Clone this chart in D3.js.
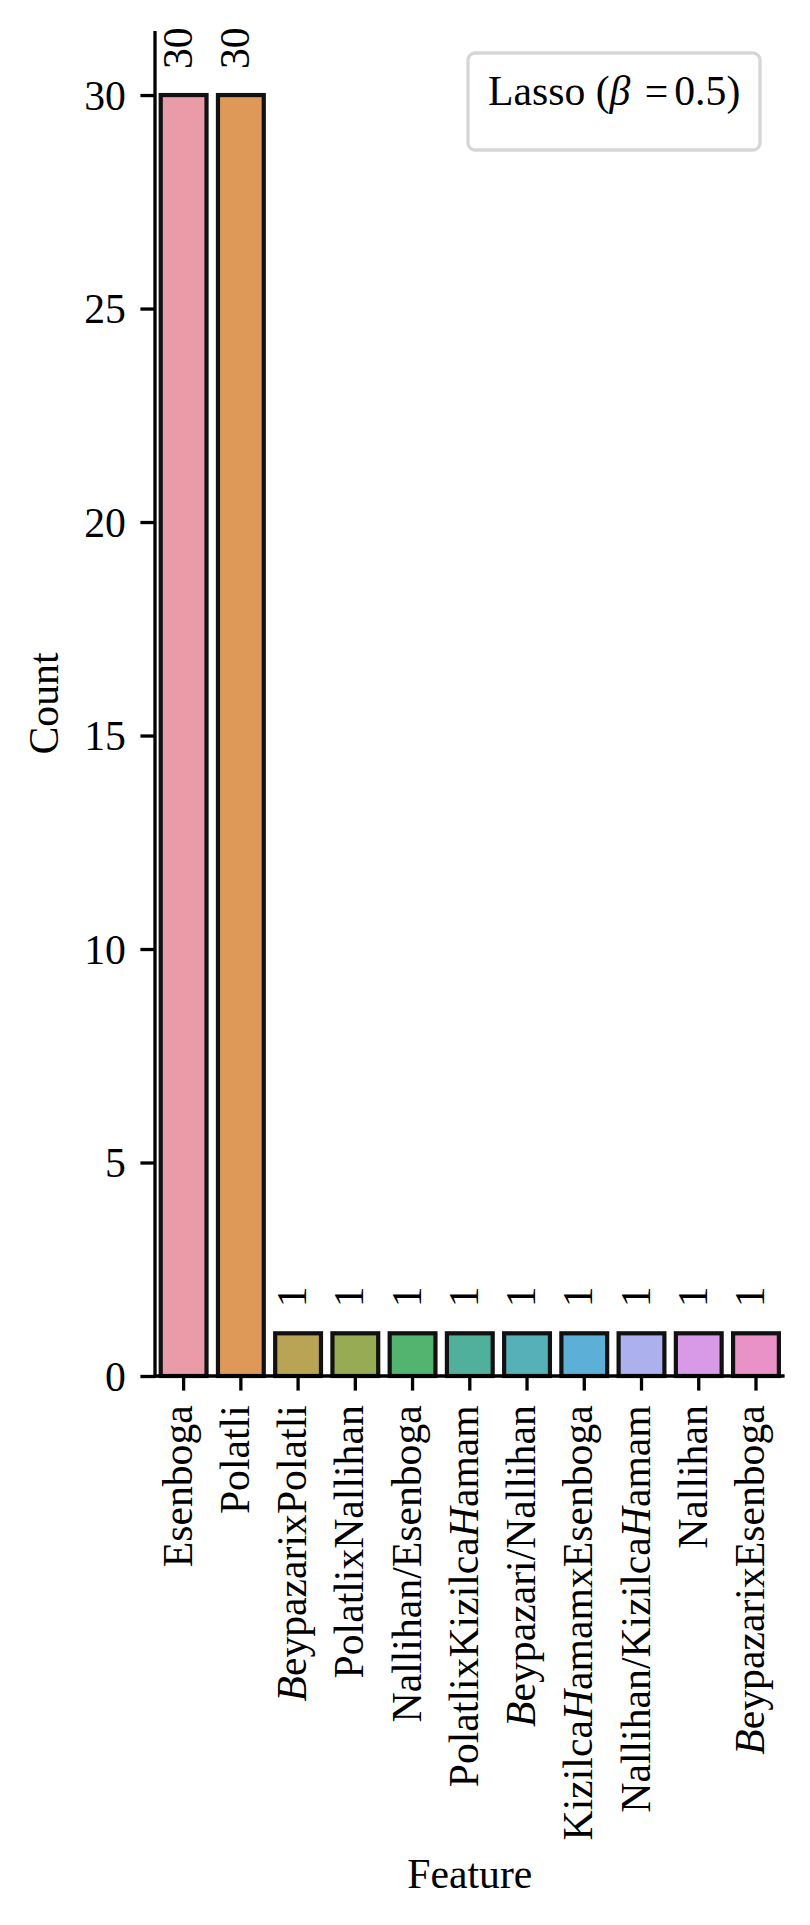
<!DOCTYPE html>
<html>
<head>
<meta charset="utf-8">
<script src="https://cdn.jsdelivr.net/npm/d3@7"></script>
<style>
  html, body { margin: 0; padding: 0; background: #fff; }
  svg { display: block; }
  text { font-family: "Liberation Serif", "Times New Roman", serif; fill: #000; }
</style>
</head>
<body>
<div id="chart"></div>
<script>
// ---- data ----
const categories = [
  "Esenboga", "Polatli", "$B$eypazarixPolatli", "PolatlixNallihan",
  "Nallihan/Esenboga", "PolatlixKizilca$H$amam", "$B$eypazari/Nallihan",
  "Kizilca$H$amamxEsenboga", "Nallihan/Kizilca$H$amam", "Nallihan",
  "$B$eypazarixEsenboga"
];
const counts = [30, 30, 1, 1, 1, 1, 1, 1, 1, 1, 1];
const barColors = [
  "#e99ca8", "#de9858", "#b8a454", "#97aa54", "#52b46e", "#50b09c",
  "#56b0b8", "#5cb0d8", "#acb0ec", "#d89ae6", "#e892c8"
];
const yTicks = [0, 5, 10, 15, 20, 25, 30];
const yMax = 31.5;
const xLabel = "Feature";
const yLabel = "Count";
const legendParts = ["Lasso (", "β", " =", "0.5)"];

// ---- layout ----
const W = 810, H = 1925;
const mLeft = 155, mRight = 784.6, mTop = 31, mBottom = 1376;
const FS = 41.7;
const tickLen = 14.6, tickPad = 14.6, lw = 3.3;

const svg = d3.select("#chart").append("svg").attr("width", W).attr("height", H);

const x = d3.scaleBand().domain(categories).range([mLeft, mRight])
  .paddingInner(0.2).paddingOuter(0.1);
const y = d3.scaleLinear().domain([0, yMax]).range([mBottom, mTop]);

// rich text helper: $X$ => italic
function richText(sel, str) {
  const parts = str.split("$");
  parts.forEach((p, i) => {
    if (!p) return;
    sel.append("tspan").text(p).attr("font-style", i % 2 === 1 ? "italic" : null);
  });
}

// bars
svg.append("g").selectAll("rect").data(categories).join("rect")
  .attr("x", d => x(d))
  .attr("width", x.bandwidth())
  .attr("y", (d, i) => y(counts[i]))
  .attr("height", (d, i) => y(0) - y(counts[i]))
  .attr("fill", (d, i) => barColors[i])
  .attr("stroke", "#111")
  .attr("stroke-width", 4.2);

// value labels
svg.append("g").selectAll("text").data(categories).join("text")
  .attr("transform", (d, i) => `translate(${x(d) + x.bandwidth() / 2 + 8},${y(counts[i]) - 26}) rotate(-90)`)
  .attr("text-anchor", "start")
  .attr("font-size", FS)
  .text((d, i) => counts[i]);

// y axis
const yAxis = svg.append("g").attr("transform", `translate(${mLeft},0)`)
  .call(d3.axisLeft(y).tickValues(yTicks).tickSize(tickLen).tickPadding(tickPad).tickFormat(d3.format("d")));
yAxis.select(".domain").remove();
yAxis.selectAll(".tick line").attr("stroke", "#000").attr("stroke-width", lw);
yAxis.selectAll(".tick text").attr("font-size", FS)
  .attr("font-family", "Liberation Serif, serif").attr("dy", "0.34em");

// x axis
const xAxis = svg.append("g").attr("transform", `translate(0,${mBottom})`)
  .call(d3.axisBottom(x).tickSize(tickLen).tickFormat(""));
xAxis.select(".domain").remove();
xAxis.selectAll(".tick line").attr("stroke", "#000").attr("stroke-width", lw);
xAxis.selectAll(".tick text").remove();
xAxis.selectAll(".tick").each(function(d) {
  const t = d3.select(this).append("text")
    .attr("transform", `translate(8,${tickLen + tickPad}) rotate(-90)`)
    .attr("text-anchor", "end")
    .attr("font-size", FS)
    .attr("font-family", "Liberation Serif, serif")
    .attr("fill", "#000");
  richText(t, d);
});

// spines
svg.append("line").attr("x1", mLeft).attr("x2", mLeft).attr("y1", mTop).attr("y2", mBottom + lw / 2)
  .attr("stroke", "#000").attr("stroke-width", lw);
svg.append("line").attr("x1", mLeft - lw / 2).attr("x2", mRight).attr("y1", mBottom).attr("y2", mBottom)
  .attr("stroke", "#000").attr("stroke-width", lw);

// axis labels
svg.append("text").attr("x", (mLeft + mRight) / 2).attr("y", 1888)
  .attr("text-anchor", "middle").attr("font-size", FS).text(xLabel);
svg.append("text").attr("transform", `translate(58,${(mTop + mBottom) / 2}) rotate(-90)`)
  .attr("text-anchor", "middle").attr("font-size", FS).text(yLabel);

// legend
svg.append("rect").attr("x", 468).attr("y", 53).attr("width", 292).attr("height", 97)
  .attr("rx", 7).attr("fill", "#fff").attr("stroke", "#d6d6d6").attr("stroke-width", 3.3);
const lt = svg.append("text").attr("x", 488).attr("y", 105).attr("font-size", FS);
lt.append("tspan").text(legendParts[0]);
lt.append("tspan").text(legendParts[1]).attr("font-style", "italic");
lt.append("tspan").text(legendParts[2]).attr("dx", 4);
lt.append("tspan").text(legendParts[3]).attr("dx", 6);
</script>
</body>
</html>
